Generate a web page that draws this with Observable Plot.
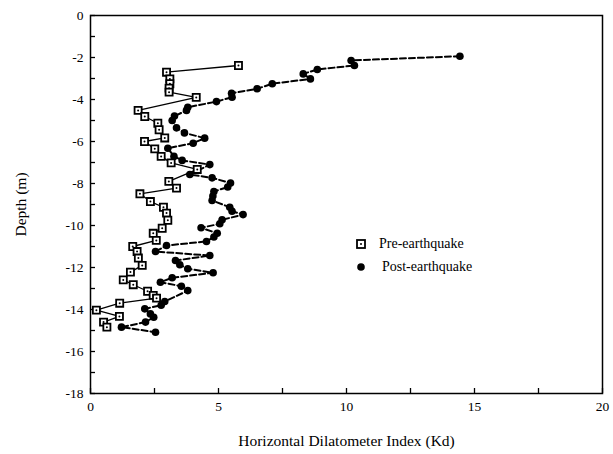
<!DOCTYPE html>
<html>
<head>
<meta charset="utf-8">
<script src="https://cdn.jsdelivr.net/npm/d3@7"></script>
<script src="https://cdn.jsdelivr.net/npm/@observablehq/plot@0.6"></script>
<style>
  body { margin: 0; background: #fff; }
  #chart { position: relative; width: 613px; height: 454px; font-family: "Liberation Serif", "DejaVu Serif", serif; }
  #chart svg { display: block; }
  .legend { position: absolute; left: 356px; top: 232px; font-size: 14px; color: #000; line-height: 1; }
  .legend .row { display: flex; align-items: center; height: 23px; }
  .legend svg { margin-right: 13px; }
</style>
</head>
<body>
<div id="chart"></div>
<script>
// Horizontal dilatometer index (Kd) profiles with depth, before and after the earthquake
const preKd = [5.78, 2.97, 3.10, 3.10, 3.07, 3.07, 4.13, 1.86, 2.12, 2.63, 2.68, 2.90, 2.11, 2.51, 2.76,
  3.15, 4.17, 3.06, 3.36, 1.93, 2.34, 2.85, 2.97, 3.02, 2.80, 2.45, 2.57, 1.65, 1.82, 1.87, 2.02,
  1.56, 1.28, 1.67, 2.23, 2.45, 2.58, 1.14, 0.23, 1.13, 0.51, 0.64];
const preDepth = [-2.38, -2.70, -3.02, -3.25, -3.46, -3.65, -3.90, -4.52, -4.81, -5.13, -5.44, -5.83, -6.00, -6.35, -6.71,
  -7.02, -7.33, -7.90, -8.22, -8.49, -8.86, -9.13, -9.41, -9.75, -10.13, -10.37, -10.71, -11.00, -11.24, -11.55, -11.90,
  -12.22, -12.59, -12.82, -13.13, -13.33, -13.46, -13.70, -14.03, -14.33, -14.60, -14.84];

const postKd = [14.43, 10.18, 10.31, 8.86, 8.31, 8.59, 7.10, 6.51, 5.51, 5.53, 4.92, 3.80, 3.75, 3.28, 3.19,
  3.36, 3.67, 4.46, 4.01, 3.02, 3.26, 3.58, 4.66, 3.88, 4.75, 5.47, 5.36, 4.82, 4.78, 4.75,
  5.44, 5.53, 5.96, 5.14, 5.05, 4.32, 4.95, 4.82, 4.53, 2.97, 2.54, 4.66, 3.32, 3.49, 3.80,
  4.79, 3.19, 2.73, 3.55, 3.80, 2.90, 2.76, 2.12, 2.34, 2.47, 2.15, 1.21, 2.54];
const postDepth = [-1.94, -2.14, -2.38, -2.57, -2.78, -3.02, -3.25, -3.49, -3.70, -3.89, -4.10, -4.37, -4.52, -4.79, -5.00,
  -5.35, -5.59, -5.84, -6.08, -6.32, -6.71, -6.90, -7.10, -7.57, -7.73, -7.98, -8.17, -8.38, -8.60, -8.81,
  -9.13, -9.32, -9.48, -9.73, -9.92, -10.11, -10.37, -10.55, -10.76, -10.95, -11.24, -11.43, -11.67, -11.87, -12.06,
  -12.25, -12.49, -12.70, -12.89, -13.10, -13.62, -13.80, -13.97, -14.21, -14.37, -14.60, -14.84, -15.08];

const xTicks = [0, 2.5, 5, 7.5, 10, 12.5, 15, 17.5, 20];
const yTicks = [-18, -17, -16, -15, -14, -13, -12, -11, -10, -9, -8, -7, -6, -5, -4, -3, -2, -1, 0];
const seriesNames = ["Pre-earthquake", "Post-earthquake"];

const pre = preKd.map((kd, i) => ({kd, depth: preDepth[i]}));
const post = postKd.map((kd, i) => ({kd, depth: postDepth[i]}));

const chart = Plot.plot({
  width: 613,
  height: 454,
  marginLeft: 90,
  marginRight: 11,
  marginTop: 15,
  marginBottom: 61,
  style: {fontFamily: "'Liberation Serif', 'DejaVu Serif', serif", fontSize: "13px", color: "#000", background: "#fff"},
  x: {domain: [0, 20]},
  y: {domain: [-18, 0]},
  marks: [
    Plot.frame({stroke: "#000", strokeWidth: 1.5}),
    Plot.axisX(xTicks, {
      anchor: "bottom", tickSize: -5, tickPadding: 13, strokeWidth: 1.3,
      tickFormat: d => d % 5 === 0 ? String(d) : "",
      fontSize: 13.5,
      label: "Horizontal Dilatometer Index (Kd)", labelAnchor: "center", labelArrow: "none", labelOffset: 52
    }),
    Plot.axisY(yTicks, {
      anchor: "left", tickSize: -5, tickPadding: 12, strokeWidth: 1.3,
      tickFormat: d => d % 2 === 0 ? String(d) : "",
      fontSize: 13.5,
      label: "Depth (m)", labelAnchor: "center", labelArrow: "none", labelOffset: 76
    }),
    // post-earthquake: dashed line, filled markers
    Plot.line(post, {x: "kd", y: "depth", stroke: "#000", strokeWidth: 2, strokeDasharray: "6,3"}),
    Plot.dot(post, {x: "kd", y: "depth", r: 3.8, fill: "#000", stroke: "none"}),
    // pre-earthquake: solid line, open squares with a center dot
    Plot.line(pre, {x: "kd", y: "depth", stroke: "#000", strokeWidth: 1.3}),
    Plot.dot(pre, {x: "kd", y: "depth", symbol: "square", r: 4, fill: "#fff", stroke: "#000", strokeWidth: 1.8}),
    Plot.dot(pre, {x: "kd", y: "depth", r: 1, fill: "#000", stroke: "none"})
  ]
});

// larger axis titles
chart.querySelectorAll("[aria-label='x-axis label'] text, [aria-label='y-axis label'] text").forEach(t => t.setAttribute("font-size", 15.5));

const root = document.getElementById("chart");
root.appendChild(chart);

const legend = document.createElement("div");
legend.className = "legend";
legend.innerHTML = `
  <div class="row"><svg width="10" height="10"><rect x="1" y="1" width="8" height="8" fill="#fff" stroke="#000" stroke-width="1.8"/><circle cx="5" cy="5" r="1" fill="#000"/></svg><span>${seriesNames[0]}</span></div>
  <div class="row"><svg width="10" height="10"><circle cx="5" cy="5" r="3.8" fill="#000"/></svg><span style="margin-left:3px">${seriesNames[1]}</span></div>`;
root.appendChild(legend);
</script>
</body>
</html>
